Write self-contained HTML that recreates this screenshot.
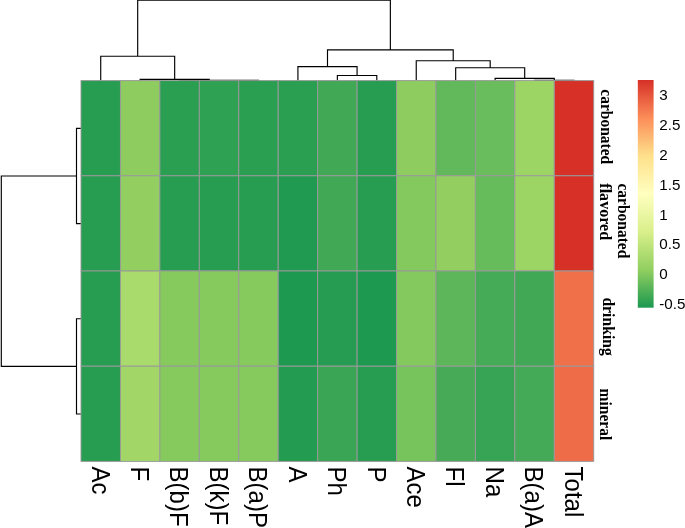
<!DOCTYPE html>
<html><head><meta charset="utf-8"><title>heatmap</title>
<style>
html,body{margin:0;padding:0;background:#fff;}
svg{display:block}
.col{font-family:"Liberation Sans",sans-serif;font-size:24px;fill:#000}
.leg{font-family:"Liberation Sans",sans-serif;font-size:15.2px;fill:#000}
.row{font-family:"Liberation Serif",serif;font-weight:bold;font-size:15.5px;fill:#000}
</style></head><body>
<svg width="685" height="528" viewBox="0 0 685 528">
<defs><linearGradient id="lg" x1="0" y1="1" x2="0" y2="0">
<stop offset="0.0000" stop-color="#1A9850"/>
<stop offset="0.1667" stop-color="#91CF60"/>
<stop offset="0.3333" stop-color="#D9EF8B"/>
<stop offset="0.5000" stop-color="#FFFFBF"/>
<stop offset="0.6667" stop-color="#FEE08B"/>
<stop offset="0.8333" stop-color="#FC8D59"/>
<stop offset="1.0000" stop-color="#D73027"/>
</linearGradient></defs>
<rect width="685" height="528" fill="#fff"/>
<path d="M219.04,80.50V80.40H258.48V80.50 M179.60,80.50V80.40H238.76V80.40 M140.16,80.50V79.30H209.18V80.40 M100.72,80.50V56.20H174.67V79.30 M337.36,80.50V75.50H376.80V80.50 M297.92,80.50V66.60H357.08V75.50 M534.56,80.50V80.40H574.00V80.50 M495.12,80.50V78.30H554.28V80.40 M455.68,80.50V67.70H524.70V78.30 M416.24,80.50V60.70H490.19V67.70 M327.50,66.60V49.90H453.22V60.70 M137.69,56.20V0.10H390.36V49.90 M81.00,128.35H76.50V223.55H81.00 M81.00,318.75H76.50V413.95H81.00 M76.50,175.95H1.30V366.35H76.50" fill="none" stroke="#000" stroke-width="1.15"/>
<rect x="81.00" y="80.60" width="39.44" height="95.20" fill="#279D51" stroke="#999" stroke-width="0.95"/>
<rect x="120.44" y="80.60" width="39.44" height="95.20" fill="#8ECC5F" stroke="#999" stroke-width="0.95"/>
<rect x="159.88" y="80.60" width="39.44" height="95.20" fill="#2A9E51" stroke="#999" stroke-width="0.95"/>
<rect x="199.32" y="80.60" width="39.44" height="95.20" fill="#2FA152" stroke="#999" stroke-width="0.95"/>
<rect x="238.76" y="80.60" width="39.44" height="95.20" fill="#2A9E51" stroke="#999" stroke-width="0.95"/>
<rect x="278.20" y="80.60" width="39.44" height="95.20" fill="#2A9E51" stroke="#999" stroke-width="0.95"/>
<rect x="317.64" y="80.60" width="39.44" height="95.20" fill="#41A856" stroke="#999" stroke-width="0.95"/>
<rect x="357.08" y="80.60" width="39.44" height="95.20" fill="#279D51" stroke="#999" stroke-width="0.95"/>
<rect x="396.52" y="80.60" width="39.44" height="95.20" fill="#8ECC5F" stroke="#999" stroke-width="0.95"/>
<rect x="435.96" y="80.60" width="39.44" height="95.20" fill="#62B95B" stroke="#999" stroke-width="0.95"/>
<rect x="475.40" y="80.60" width="39.44" height="95.20" fill="#6ABD5C" stroke="#999" stroke-width="0.95"/>
<rect x="514.84" y="80.60" width="39.44" height="95.20" fill="#9DD565" stroke="#999" stroke-width="0.95"/>
<rect x="554.28" y="80.60" width="39.44" height="95.20" fill="#D73027" stroke="#999" stroke-width="0.95"/>
<rect x="81.00" y="175.80" width="39.44" height="95.20" fill="#269D50" stroke="#999" stroke-width="0.95"/>
<rect x="120.44" y="175.80" width="39.44" height="95.20" fill="#92CF60" stroke="#999" stroke-width="0.95"/>
<rect x="159.88" y="175.80" width="39.44" height="95.20" fill="#279D51" stroke="#999" stroke-width="0.95"/>
<rect x="199.32" y="175.80" width="39.44" height="95.20" fill="#279D51" stroke="#999" stroke-width="0.95"/>
<rect x="238.76" y="175.80" width="39.44" height="95.20" fill="#279D51" stroke="#999" stroke-width="0.95"/>
<rect x="278.20" y="175.80" width="39.44" height="95.20" fill="#209A50" stroke="#999" stroke-width="0.95"/>
<rect x="317.64" y="175.80" width="39.44" height="95.20" fill="#41A856" stroke="#999" stroke-width="0.95"/>
<rect x="357.08" y="175.80" width="39.44" height="95.20" fill="#279D51" stroke="#999" stroke-width="0.95"/>
<rect x="396.52" y="175.80" width="39.44" height="95.20" fill="#84C95E" stroke="#999" stroke-width="0.95"/>
<rect x="435.96" y="175.80" width="39.44" height="95.20" fill="#92CF60" stroke="#999" stroke-width="0.95"/>
<rect x="475.40" y="175.80" width="39.44" height="95.20" fill="#66BB5B" stroke="#999" stroke-width="0.95"/>
<rect x="514.84" y="175.80" width="39.44" height="95.20" fill="#9DD565" stroke="#999" stroke-width="0.95"/>
<rect x="554.28" y="175.80" width="39.44" height="95.20" fill="#D73027" stroke="#999" stroke-width="0.95"/>
<rect x="81.00" y="271.00" width="39.44" height="95.20" fill="#269D50" stroke="#999" stroke-width="0.95"/>
<rect x="120.44" y="271.00" width="39.44" height="95.20" fill="#A8DA6C" stroke="#999" stroke-width="0.95"/>
<rect x="159.88" y="271.00" width="39.44" height="95.20" fill="#86CA5E" stroke="#999" stroke-width="0.95"/>
<rect x="199.32" y="271.00" width="39.44" height="95.20" fill="#86CA5E" stroke="#999" stroke-width="0.95"/>
<rect x="238.76" y="271.00" width="39.44" height="95.20" fill="#86CA5E" stroke="#999" stroke-width="0.95"/>
<rect x="278.20" y="271.00" width="39.44" height="95.20" fill="#1E9950" stroke="#999" stroke-width="0.95"/>
<rect x="317.64" y="271.00" width="39.44" height="95.20" fill="#259C51" stroke="#999" stroke-width="0.95"/>
<rect x="357.08" y="271.00" width="39.44" height="95.20" fill="#1E9950" stroke="#999" stroke-width="0.95"/>
<rect x="396.52" y="271.00" width="39.44" height="95.20" fill="#84C95E" stroke="#999" stroke-width="0.95"/>
<rect x="435.96" y="271.00" width="39.44" height="95.20" fill="#5DB75A" stroke="#999" stroke-width="0.95"/>
<rect x="475.40" y="271.00" width="39.44" height="95.20" fill="#45AB57" stroke="#999" stroke-width="0.95"/>
<rect x="514.84" y="271.00" width="39.44" height="95.20" fill="#41A856" stroke="#999" stroke-width="0.95"/>
<rect x="554.28" y="271.00" width="39.44" height="95.20" fill="#F0704A" stroke="#999" stroke-width="0.95"/>
<rect x="81.00" y="366.20" width="39.44" height="95.20" fill="#269D50" stroke="#999" stroke-width="0.95"/>
<rect x="120.44" y="366.20" width="39.44" height="95.20" fill="#A2D768" stroke="#999" stroke-width="0.95"/>
<rect x="159.88" y="366.20" width="39.44" height="95.20" fill="#86CA5E" stroke="#999" stroke-width="0.95"/>
<rect x="199.32" y="366.20" width="39.44" height="95.20" fill="#86CA5E" stroke="#999" stroke-width="0.95"/>
<rect x="238.76" y="366.20" width="39.44" height="95.20" fill="#86CA5E" stroke="#999" stroke-width="0.95"/>
<rect x="278.20" y="366.20" width="39.44" height="95.20" fill="#239B50" stroke="#999" stroke-width="0.95"/>
<rect x="317.64" y="366.20" width="39.44" height="95.20" fill="#3AA555" stroke="#999" stroke-width="0.95"/>
<rect x="357.08" y="366.20" width="39.44" height="95.20" fill="#279D51" stroke="#999" stroke-width="0.95"/>
<rect x="396.52" y="366.20" width="39.44" height="95.20" fill="#77C35C" stroke="#999" stroke-width="0.95"/>
<rect x="435.96" y="366.20" width="39.44" height="95.20" fill="#47AA56" stroke="#999" stroke-width="0.95"/>
<rect x="475.40" y="366.20" width="39.44" height="95.20" fill="#37A354" stroke="#999" stroke-width="0.95"/>
<rect x="514.84" y="366.20" width="39.44" height="95.20" fill="#45AA57" stroke="#999" stroke-width="0.95"/>
<rect x="554.28" y="366.20" width="39.44" height="95.20" fill="#EE6D48" stroke="#999" stroke-width="0.95"/>
<text class="col" transform="translate(91.52,466.60) scale(1.07,1) rotate(90)">Ac</text>
<text class="col" transform="translate(130.96,466.60) scale(1.07,1) rotate(90)">F</text>
<text class="col" transform="translate(170.40,466.60) scale(1.07,1) rotate(90)">B(b)F</text>
<text class="col" transform="translate(209.84,466.60) scale(1.07,1) rotate(90)">B(k)F</text>
<text class="col" transform="translate(249.28,466.60) scale(1.07,1) rotate(90)">B(a)P</text>
<text class="col" transform="translate(288.72,466.60) scale(1.07,1) rotate(90)">A</text>
<text class="col" transform="translate(328.16,466.60) scale(1.07,1) rotate(90)">Ph</text>
<text class="col" transform="translate(367.60,466.60) scale(1.07,1) rotate(90)">P</text>
<text class="col" transform="translate(407.04,466.60) scale(1.07,1) rotate(90)">Ace</text>
<text class="col" transform="translate(446.48,466.60) scale(1.07,1) rotate(90)">Fl</text>
<text class="col" transform="translate(485.92,466.60) scale(1.07,1) rotate(90)">Na</text>
<text class="col" transform="translate(525.36,466.60) scale(1.07,1) rotate(90)">B(a)A</text>
<text class="col" transform="translate(564.80,466.60) scale(1.07,1) rotate(90)">Total</text>
<text class="row" style="font-size:15.5px" transform="translate(600.7,89.3) scale(1.03,1) rotate(90)">carbonated</text>
<text class="row" style="font-size:15.5px" transform="translate(618.0,183.5) scale(1.03,1) rotate(90)">carbonated</text>
<text class="row" style="font-size:16.1px" transform="translate(599.8,183.3) scale(0.99,1) rotate(90)">flavored</text>
<text class="row" style="font-size:15.7px" transform="translate(602.8,297.4) scale(1.03,1) rotate(90)">drinking</text>
<text class="row" style="font-size:15.5px" transform="translate(600.2,388.6) scale(1.02,1) rotate(90)">mineral</text>
<rect x="637.8" y="80" width="15.8" height="227.7" fill="url(#lg)"/>
<text class="leg" transform="translate(659.3,99.60) scale(1.0,1)">3</text>
<text class="leg" transform="translate(659.3,129.57) scale(1.0,1)">2.5</text>
<text class="leg" transform="translate(659.3,159.55) scale(1.0,1)">2</text>
<text class="leg" transform="translate(659.3,189.53) scale(1.0,1)">1.5</text>
<text class="leg" transform="translate(659.3,219.50) scale(1.0,1)">1</text>
<text class="leg" transform="translate(659.3,249.47) scale(1.0,1)">0.5</text>
<text class="leg" transform="translate(659.3,279.45) scale(1.0,1)">0</text>
<text class="leg" transform="translate(659.3,309.43) scale(1.0,1)">-0.5</text>
</svg></body></html>
